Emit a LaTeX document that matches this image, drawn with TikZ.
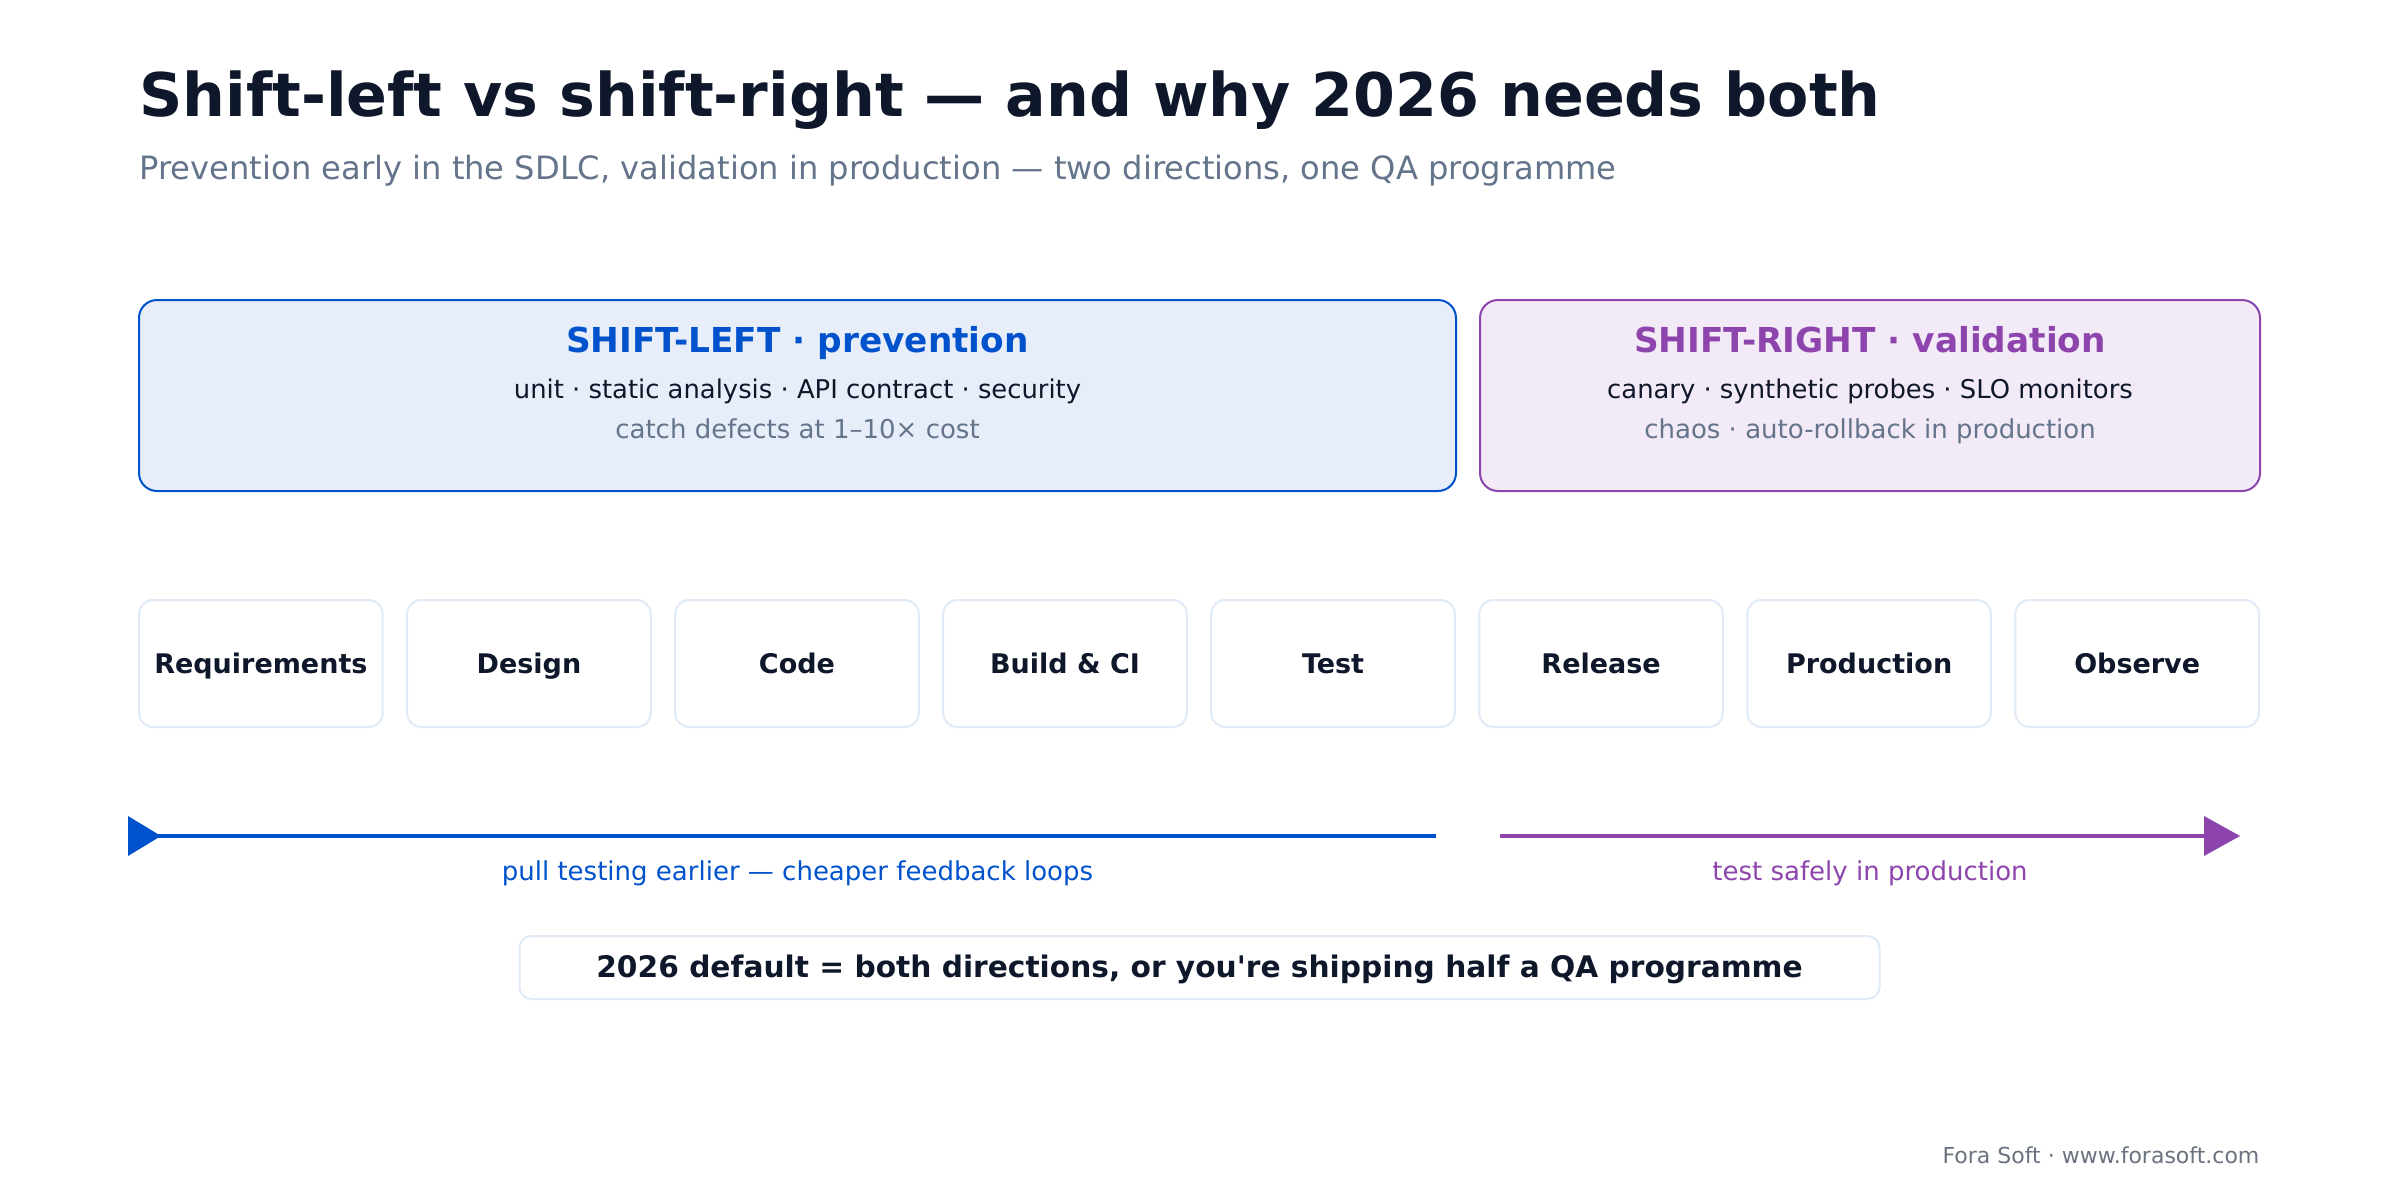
\documentclass[tikz,border=0pt]{standalone}
\usepackage{fontspec}
\setmainfont{DejaVu Sans}[Ligatures=TeXOff]
\definecolor{ink}{HTML}{0F172A}
\definecolor{slate}{HTML}{64748B}
\definecolor{lblue}{HTML}{0052CC}
\definecolor{lbluefill}{HTML}{E7EEFA}
\definecolor{rpurple}{HTML}{8E44AD}
\definecolor{rpurplefill}{HTML}{F3EAF7}
\definecolor{stageline}{HTML}{E1EAF7}
\definecolor{footgray}{HTML}{6B7280}
\newcommand{\fsz}[1]{\fontsize{#1}{1.2\dimexpr#1\relax}\selectfont}
\begin{document}
\begin{tikzpicture}[x=0.3pt,y=-0.3pt,
  bigbox/.style={draw, line width=0.6pt, rounded corners=5.4pt, inner sep=0pt, minimum height=57.3pt},
  stagebox/.style={draw=stageline, line width=0.6pt, fill=white, rounded corners=4.2pt, inner sep=0pt,
     minimum width=73.1pt, minimum height=38.1pt, font=\fsz{8.1pt}\bfseries, text=ink,
     text height=7.3pt, text depth=1.6pt},
  txt/.style={inner sep=0pt, anchor=base},
  flow/.style={line width=1.2pt}
]
\useasboundingbox[fill=white] (0,0) rectangle (2400,1200);

% title
\node[txt, anchor=base west, font=\fsz{18.05pt}\bfseries, text=ink] (title) at (139,116)
  {Shift-left vs shift-right — and why 2026 needs both};
\node[txt, anchor=base west, font=\fsz{9.64pt}, text=slate] (subtitle) at (139,179)
  {Prevention early in the SDLC, validation in production — two directions, one QA programme};

% big boxes
\node[bigbox, draw=lblue, fill=lbluefill, minimum width=395.1pt] (leftbox) at (797.5,395.5) {};
\node[bigbox, draw=rpurple, fill=rpurplefill, minimum width=234pt] (rightbox) at (1870,395.5) {};

\node[txt, font=\fsz{10.3pt}\bfseries, text=lblue] (lt1) at (797.5,352) {SHIFT-LEFT · prevention};
\node[txt, font=\fsz{7.75pt}, text=ink] (lt2) at (797.5,398) {unit · static analysis · API contract · security};
\node[txt, font=\fsz{7.8pt}, text=slate] (lt3) at (797.5,438) {catch defects at 1–10× cost};

\node[txt, font=\fsz{10.3pt}\bfseries, text=rpurple] (rt1) at (1870,352) {SHIFT-RIGHT · validation};
\node[txt, font=\fsz{7.75pt}, text=ink] (rt2) at (1870,398) {canary · synthetic probes · SLO monitors};
\node[txt, font=\fsz{7.8pt}, text=slate] (rt3) at (1870,438) {chaos · auto-rollback in production};

% stages
\foreach \lab [count=\i from 0] in {Requirements,Design,Code,Build \& CI,Test,Release,Production,Observe}{
  \node[stagebox] (s\i) at ({260.9+\i*268.04},663.5) {\lab};
}

% flows
\coordinate (la) at (1436,836);
\coordinate (lb) at (150,836);
\coordinate (ra) at (1500,836);
\coordinate (rb) at (2236,836);
\draw[flow, lblue] (la) -- (lb);
\fill[lblue] (128,816) -- (161,836) -- (128,856) -- cycle;
\draw[flow, rpurple] (ra) -- (rb);
\fill[rpurple] (2204,816) -- (2240,836) -- (2204,856) -- cycle;

\node[txt, font=\fsz{7.8pt}, text=lblue] (llab) at (797.5,880) {pull testing earlier — cheaper feedback loops};
\node[txt, font=\fsz{7.8pt}, text=rpurple] (rlab) at (1870,880) {test safely in production};

% bottom message
\node[draw=stageline, line width=0.6pt, fill=white, rounded corners=3.6pt, inner sep=0pt,
  minimum width=408pt, minimum height=18.9pt] (msgbox) at (1199.5,967.5) {};
\node[txt, font=\fsz{8.9pt}\bfseries, text=ink] (msg) at (1199.5,977.5)
  {2026 default = both directions, or you're shipping half a QA programme};

% footer
\node[txt, anchor=base east, font=\fsz{6.6pt}, text=footgray] (foot) at (2260,1163)
  {Fora Soft · www.forasoft.com};
\end{tikzpicture}
\end{document}
